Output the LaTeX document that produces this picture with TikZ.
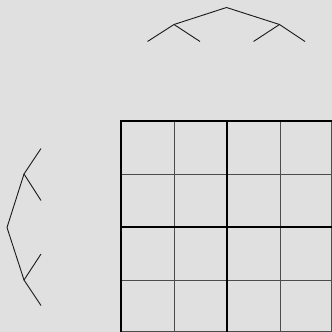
\documentclass[tikz,border=0pt]{standalone}
\usepackage{tikz}
\usetikzlibrary{positioning}

\begin{document}
\begin{tikzpicture}[x=1pt,y=-1pt,
  branch/.style={draw=black!90,line width=0.9pt},
  major/.style={draw=black,line width=1.7pt},
  minor/.style={draw=black!70,line width=1pt}]
\fill[black!12] (0,0) rectangle (332,332);
\useasboundingbox (0,0) rectangle (332,332);
% column tree
\coordinate (c) at (226.5,7.5);
\coordinate (ca) at (174,24.5);
\coordinate (cb) at (279.5,24.5);
\coordinate (c1) at (147.5,41.5);
\coordinate (c2) at (200,41.5);
\coordinate (c3) at (253.5,41.5);
\coordinate (c4) at (305,41.5);
\draw[branch] (ca) -- (c) -- (cb);
\draw[branch] (c1) -- (ca) -- (c2);
\draw[branch] (c3) -- (cb) -- (c4);
% row tree
\coordinate (r) at (7,227.5);
\coordinate (ra) at (24,174);
\coordinate (rb) at (24,280);
\coordinate (r1) at (41,148.5);
\coordinate (r2) at (41,200.5);
\coordinate (r3) at (41,254);
\coordinate (r4) at (41,305.5);
\draw[branch] (ra) -- (r) -- (rb);
\draw[branch] (r1) -- (ra) -- (r2);
\draw[branch] (r3) -- (rb) -- (r4);
% grid
\foreach \p in {174,280,331.5} {
  \draw[minor] (\p,121) -- (\p,332);
  \draw[minor] (121,\p) -- (332,\p);
}
\draw[major] (121,332) -- (121,121) -- (332,121);
\draw[major] (227,121) -- (227,332);
\draw[major] (121,227) -- (332,227);
\end{tikzpicture}
\end{document}
